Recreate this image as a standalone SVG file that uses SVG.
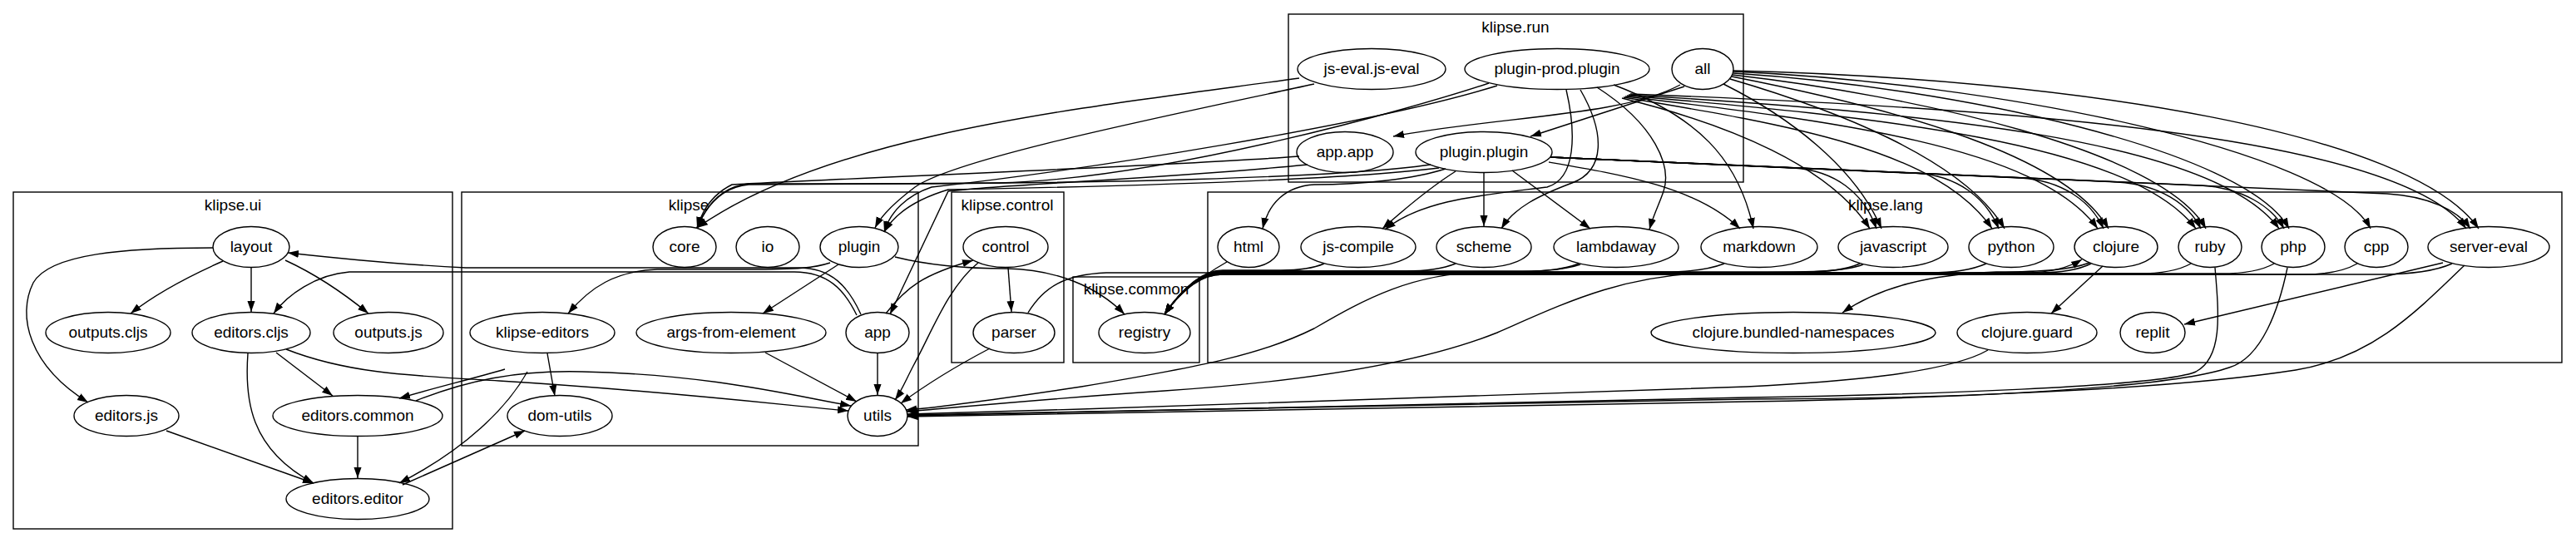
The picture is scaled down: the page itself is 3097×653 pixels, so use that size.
<svg xmlns="http://www.w3.org/2000/svg" width="3097" height="653" viewBox="0 0 3097 653">
<defs>
<marker id="a" viewBox="0 0 10 10" refX="10" refY="5" markerWidth="13" markerHeight="13" markerUnits="userSpaceOnUse" orient="auto"><path d="M0,1.5 L10,5 L0,8.5 z" fill="#000"/></marker>
<style>
.c rect{fill:none;stroke:#000;stroke-width:1.4}
.n ellipse{fill:none;stroke:#000;stroke-width:1.4}
text{font-family:"Liberation Sans",Arial,Helvetica,sans-serif;font-size:19px;text-anchor:middle;fill:#000}
#edges path{fill:none;stroke:#000;stroke-width:1.4;marker-end:url(#a)}
</style>
</defs>
<rect width="3097" height="653" fill="#fff"/>
<g id="clusters" class="c">
<g id="cluster-ui"><rect x="16" y="231" width="528" height="405"/><text x="280" y="253">klipse.ui</text></g>
<g id="cluster-klipse"><rect x="555" y="231" width="549" height="305"/><text x="828" y="253">klipse</text></g>
<g id="cluster-control"><rect x="1144" y="231" width="135" height="205"/><text x="1211" y="253">klipse.control</text></g>
<g id="cluster-common"><rect x="1290" y="333" width="152" height="103"/><text x="1366" y="354">klipse.common</text></g>
<g id="cluster-lang"><rect x="1452" y="231" width="1628" height="205"/><text x="2267" y="253">klipse.lang</text></g>
<g id="cluster-run"><rect x="1549" y="17" width="547" height="202"/><text x="1822" y="39">klipse.run</text></g>
</g>
<g id="edges">
<!-- ui -->
<path d="M268,314 C225,333 185,355 157,377"/>
<path d="M302,322 L302,375"/>
<path d="M343,313 C380,330 410,350 443,377"/>
<path d="M256,298 C150,298 60,305 40,340 C20,380 35,440 106,484"/>
<path d="M332,424 L400,476"/>
<path d="M298,425 C294,480 300,540 377,581"/>
<path d="M344,420 C420,450 500,452 600,458 C800,470 950,488 1020,494"/>
<path d="M200,518 L377,581"/>
<path d="M430,525 L430,575"/>
<path d="M484,583 L631,518"/>
<path d="M607,444 C570,455 520,467 480,479"/>
<path d="M500,482 C560,458 620,445 700,447 C850,450 950,475 1023,488"/>
<path d="M634,447 C610,490 560,540 480,581"/>
<path d="M658,425 L667,476"/>
<!-- klipse -->
<path d="M998,316 C980,322 960,324 900,324 L790,324 C740,326 710,345 683,377"/>
<path d="M1008,318 L917,377"/>
<path d="M1076,309 C1120,320 1170,323 1210,323 C1270,324 1320,345 1352,378"/>
<path d="M1035,378 C1020,345 1000,322 960,322 L560,322 C480,318 400,310 346,304"/>
<path d="M1030,379 C1015,348 995,327 955,327 L420,327 C380,330 345,355 329,377"/>
<path d="M1065,377 C1090,345 1110,330 1170,313"/>
<path d="M1055,425 L1055,475"/>
<path d="M920,424 L1030,483"/>
<path d="M1212,322 L1216,375"/>
<path d="M1176,316 C1140,345 1120,400 1098,440 C1090,455 1084,470 1076,481"/>
<path d="M1190,419 C1150,440 1110,465 1083,485"/>
<path d="M1236,376 C1255,345 1280,330 1330,328 L2440,328 C2470,327 2490,320 2503,312"/>
<!-- run -> klipse -->
<path d="M1562,94 C1300,130 1000,160 838,274"/>
<path d="M1580,101 C1400,140 1150,190 1100,225 C1080,240 1060,258 1052,274"/>
<path d="M1790,100 C1700,130 1400,215 1200,220 L900,222 C870,225 850,245 838,274"/>
<path d="M1800,103 C1650,150 1300,205 1120,225 C1090,235 1070,255 1063,279"/>
<path d="M1562,188 C1400,200 1000,215 880,222 C860,232 845,250 838,274"/>
<path d="M1572,198 C1400,215 1200,222 1140,230 L1070,378"/>
<path d="M1720,198 C1600,215 1300,220 1100,221 L900,221 C870,224 850,245 838,274"/>
<path d="M1730,202 C1600,218 1300,225 1140,228 C1100,240 1075,258 1063,279"/>
<!-- run internal -->
<path d="M2020,102 C1950,140 1800,140 1675,164"/>
<path d="M2025,104 L1840,164"/>
<!-- plugin.plugin -> lang -->
<path d="M1738,203 C1700,215 1640,222 1580,222 C1545,224 1525,245 1518,275"/>
<path d="M1750,206 C1720,225 1690,250 1662,275"/>
<path d="M1784,208 L1784,272"/>
<path d="M1818,205 L1912,275"/>
<path d="M1862,195 C1950,210 2040,225 2092,275"/>
<path d="M1864,189 L2156,202 C2206,205 2241,232 2256,275"/>
<path d="M1864,189 L2303,208 C2353,211 2388,238 2403,275"/>
<path d="M1864,189 L2429,214 C2479,217 2514,242 2529,275"/>
<path d="M1864,189 L2546,219 C2596,222 2631,245 2646,275"/>
<path d="M1864,189 L2646,223 C2696,226 2731,248 2746,275"/>
<path d="M1864,189 L2870,233 C2920,236 2955,253 2970,275"/>
<!-- plugin-prod -> lang -->
<path d="M1883,108 C1895,160 1895,215 1860,225 C1780,235 1710,240 1665,276"/>
<path d="M1900,108 C1930,160 1930,205 1890,220 C1850,235 1820,250 1805,275"/>
<path d="M1920,105 C1990,150 2010,200 2000,230 C1995,245 1988,258 1983,276"/>
<path d="M1940,102 C2040,140 2090,190 2108,275"/>
<path d="M1950,118 C2080,150 2200,200 2248,275"/>
<path d="M1952,117 C2150,150 2330,180 2395,275"/>
<path d="M1954,116 C2200,145 2450,175 2522,275"/>
<path d="M1956,115 C2250,140 2560,170 2640,275"/>
<path d="M1958,114 C2300,135 2660,165 2740,275"/>
<path d="M1960,113 C2400,130 2880,160 2965,275"/>
<!-- all -> lang -->
<path d="M2072,101 C2150,140 2230,200 2262,275"/>
<path d="M2080,95 C2200,130 2360,190 2410,275"/>
<path d="M2082,92 C2250,125 2480,180 2535,275"/>
<path d="M2083,90 C2300,115 2600,180 2652,275"/>
<path d="M2084,88 C2350,105 2700,180 2752,275"/>
<path d="M2084,86 C2400,100 2800,180 2850,275"/>
<path d="M2084,85 C2500,95 2900,160 2980,275"/>
<!-- lang -> registry -->
<path d="M1475,315 C1440,335 1415,355 1400,378"/>
<path d="M1592,317 C1578,323 1560,325 1540,325 L1470,325 C1442,325 1418,352 1400,378"/>
<path d="M1750,317 C1735,323 1715,326 1690,326 L1470,326 C1442,326 1418,352 1400,378"/>
<path d="M1898,317 C1880,324 1860,326 1830,326 L1470,326 C1442,326 1418,352 1400,378"/>
<path d="M2073,317 C2055,324 2030,327 2000,327 L1470,327 C1442,327 1418,352 1400,378"/>
<path d="M2236,317 C2220,324 2200,327 2170,327 L1470,327 C1442,327 1418,352 1400,378"/>
<path d="M2388,317 C2372,324 2350,328 2320,328 L1470,328 C1442,328 1418,352 1400,378"/>
<path d="M2514,317 C2500,324 2480,328 2450,328 L1470,328 C1442,328 1418,352 1400,378"/>
<path d="M2634,317 C2620,325 2600,329 2570,329 L1470,329 C1442,329 1418,352 1400,378"/>
<path d="M2734,317 C2720,325 2700,329 2670,329 L1470,329 C1442,329 1418,352 1400,378"/>
<path d="M2834,317 C2820,325 2800,330 2770,330 L1470,330 C1442,330 1418,352 1400,378"/>
<path d="M2948,317 C2930,325 2900,330 2860,330 L1470,330 C1442,330 1418,352 1400,378"/>
<!-- lang internal -->
<path d="M2512,316 C2490,324 2460,327 2400,327 C2320,330 2260,345 2215,376"/>
<path d="M2528,320 L2466,377"/>
<path d="M2937,316 L2626,390"/>
<!-- -> utils -->
<path d="M1900,318 C1880,325 1850,327 1790,327 C1700,327 1640,360 1580,395 C1520,425 1450,440 1300,465 C1200,480 1130,490 1089,493"/>
<path d="M2240,318 C2220,326 2190,328 2060,328 C1950,330 1880,365 1800,400 C1700,440 1550,460 1400,470 C1250,480 1150,490 1090,495"/>
<path d="M2390,421 C2340,450 2200,460 2100,465 L1300,492 C1200,495 1130,497 1091,498"/>
<path d="M2663,322 C2668,380 2672,430 2640,447 C2600,465 2300,475 2100,478 L1091,500"/>
<path d="M2750,322 C2740,370 2720,430 2680,442 C2600,470 2300,480 2100,483 L1091,501"/>
<path d="M2963,319 C2900,380 2850,430 2760,445 C2600,470 2300,480 2100,480 L1091,499"/>
</g>
<g id="nodes" class="n">
<g id="n-layout"><ellipse cx="302" cy="297" rx="46" ry="24.5"/><text x="302" y="303">layout</text></g>
<g id="n-outputs-cljs"><ellipse cx="130" cy="400" rx="75" ry="24.5"/><text x="130" y="406">outputs.cljs</text></g>
<g id="n-editors-cljs"><ellipse cx="302" cy="400" rx="71" ry="24.5"/><text x="302" y="406">editors.cljs</text></g>
<g id="n-outputs-js"><ellipse cx="467" cy="400" rx="66" ry="24.5"/><text x="467" y="406">outputs.js</text></g>
<g id="n-editors-js"><ellipse cx="152" cy="500" rx="63" ry="24.5"/><text x="152" y="506">editors.js</text></g>
<g id="n-editors-common"><ellipse cx="430" cy="500" rx="102" ry="24.5"/><text x="430" y="506">editors.common</text></g>
<g id="n-editors-editor"><ellipse cx="430" cy="600" rx="86" ry="24.5"/><text x="430" y="606">editors.editor</text></g>
<g id="n-core"><ellipse cx="823" cy="297" rx="38" ry="24.5"/><text x="823" y="303">core</text></g>
<g id="n-io"><ellipse cx="923" cy="297" rx="38" ry="24.5"/><text x="923" y="303">io</text></g>
<g id="n-plugin"><ellipse cx="1033" cy="297" rx="47" ry="24.5"/><text x="1033" y="303">plugin</text></g>
<g id="n-klipse-editors"><ellipse cx="652" cy="400" rx="87" ry="24.5"/><text x="652" y="406">klipse-editors</text></g>
<g id="n-args-from-element"><ellipse cx="879" cy="400" rx="114" ry="24.5"/><text x="879" y="406">args-from-element</text></g>
<g id="n-app"><ellipse cx="1055" cy="400" rx="38" ry="24.5"/><text x="1055" y="406">app</text></g>
<g id="n-dom-utils"><ellipse cx="673" cy="500" rx="63" ry="24.5"/><text x="673" y="506">dom-utils</text></g>
<g id="n-utils"><ellipse cx="1055" cy="500" rx="36" ry="24.5"/><text x="1055" y="506">utils</text></g>
<g id="n-control"><ellipse cx="1209" cy="297" rx="51" ry="24.5"/><text x="1209" y="303">control</text></g>
<g id="n-parser"><ellipse cx="1219" cy="400" rx="49" ry="24.5"/><text x="1219" y="406">parser</text></g>
<g id="n-registry"><ellipse cx="1376" cy="400" rx="55" ry="24.5"/><text x="1376" y="406">registry</text></g>
<g id="n-html"><ellipse cx="1501" cy="297" rx="37" ry="24.5"/><text x="1501" y="303">html</text></g>
<g id="n-js-compile"><ellipse cx="1633" cy="297" rx="69" ry="24.5"/><text x="1633" y="303">js-compile</text></g>
<g id="n-scheme"><ellipse cx="1784" cy="297" rx="57" ry="24.5"/><text x="1784" y="303">scheme</text></g>
<g id="n-lambdaway"><ellipse cx="1943" cy="297" rx="75" ry="24.5"/><text x="1943" y="303">lambdaway</text></g>
<g id="n-markdown"><ellipse cx="2115" cy="297" rx="70" ry="24.5"/><text x="2115" y="303">markdown</text></g>
<g id="n-javascript"><ellipse cx="2276" cy="297" rx="66" ry="24.5"/><text x="2276" y="303">javascript</text></g>
<g id="n-python"><ellipse cx="2418" cy="297" rx="51" ry="24.5"/><text x="2418" y="303">python</text></g>
<g id="n-clojure"><ellipse cx="2544" cy="297" rx="50" ry="24.5"/><text x="2544" y="303">clojure</text></g>
<g id="n-ruby"><ellipse cx="2657" cy="297" rx="38" ry="24.5"/><text x="2657" y="303">ruby</text></g>
<g id="n-php"><ellipse cx="2757" cy="297" rx="38" ry="24.5"/><text x="2757" y="303">php</text></g>
<g id="n-cpp"><ellipse cx="2857" cy="297" rx="38" ry="24.5"/><text x="2857" y="303">cpp</text></g>
<g id="n-server-eval"><ellipse cx="2992" cy="297" rx="73" ry="24.5"/><text x="2992" y="303">server-eval</text></g>
<g id="n-clojure-bundled-namespaces"><ellipse cx="2156" cy="400" rx="171" ry="24.5"/><text x="2156" y="406">clojure.bundled-namespaces</text></g>
<g id="n-clojure-guard"><ellipse cx="2437" cy="400" rx="84" ry="24.5"/><text x="2437" y="406">clojure.guard</text></g>
<g id="n-replit"><ellipse cx="2588" cy="400" rx="39" ry="24.5"/><text x="2588" y="406">replit</text></g>
<g id="n-js-eval"><ellipse cx="1649" cy="83" rx="89" ry="24.5"/><text x="1649" y="89">js-eval.js-eval</text></g>
<g id="n-plugin-prod"><ellipse cx="1872" cy="83" rx="111" ry="24.5"/><text x="1872" y="89">plugin-prod.plugin</text></g>
<g id="n-all"><ellipse cx="2047" cy="83" rx="37" ry="24.5"/><text x="2047" y="89">all</text></g>
<g id="n-app-app"><ellipse cx="1617" cy="183" rx="58" ry="24.5"/><text x="1617" y="189">app.app</text></g>
<g id="n-plugin-plugin"><ellipse cx="1784" cy="183" rx="82" ry="24.5"/><text x="1784" y="189">plugin.plugin</text></g>
</g>
</svg>
